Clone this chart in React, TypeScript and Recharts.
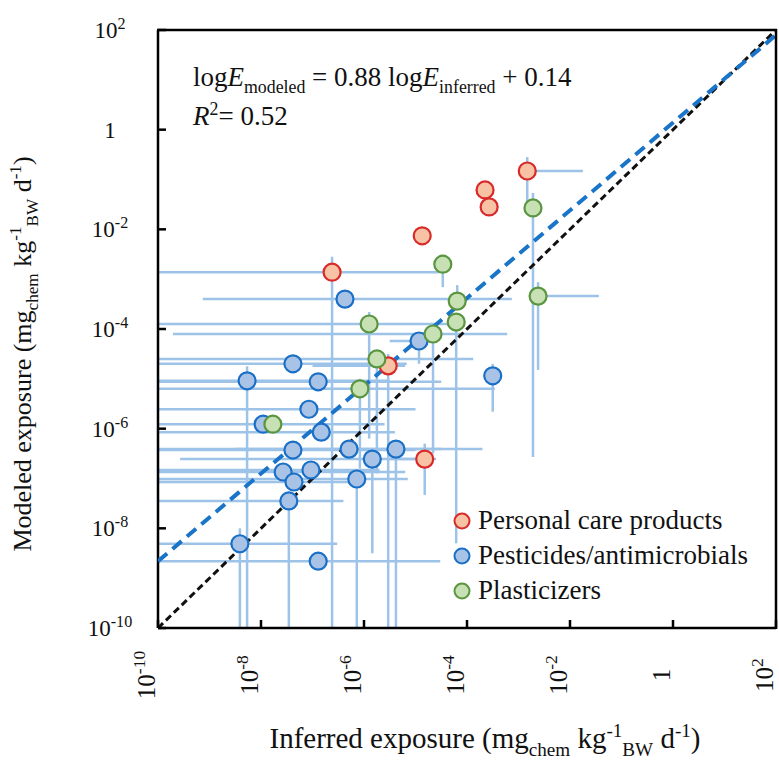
import React from 'react';
import { ScatterChart, Scatter, XAxis, YAxis, ErrorBar, Legend } from 'recharts';

const FONT = '"Liberation Serif", "DejaVu Serif", "Times New Roman", "Liberation Sans", sans-serif';

// Axis ticks (both axes, log scale)
const axisTicks = [1e-10, 1e-8, 1e-6, 1e-4, 1e-2, 1, 1e2];
const axisDomain = [1e-10, 1e2];

// Personal care products
const pcpX = [1.48e-3, 2.24e-4, 2.69e-4, 1.35e-5, 2.4e-7, 2.95e-6, 1.51e-5];
const pcpY = [1.48e-1, 6.17e-2, 2.82e-2, 7.41e-3, 1.38e-3, 1.82e-5, 2.45e-7];
const pcpXLow = [null, null, null, null, 1e-10, 1e-7, 3.16e-6];
const pcpXHigh = [1.78e-2, null, null, null, 2.82e-5, 6.31e-6, 2.51e-5];
const pcpYLow = [2.51e-2, null, null, null, 1e-10, 1e-10, 4.68e-8];
const pcpYHigh = [2.82e-1, null, null, null, 2.82e-3, 3.16e-5, 5.01e-7];

// Pesticides / antimicrobials
const pestX = [4.27e-7, 1.17e-5, 4.17e-8, 5.37e-9, 1.29e-7, 3.16e-4, 8.51e-8, 1.1e-8, 1.48e-7, 4.17e-8, 5.13e-7, 1.45e-6, 4.17e-6, 2.69e-8, 9.33e-8, 4.37e-8, 7.24e-7, 3.47e-8, 3.89e-9, 1.29e-7];
const pestY = [3.98e-4, 5.75e-5, 2.0e-5, 9.12e-6, 8.71e-6, 1.15e-5, 2.45e-6, 1.23e-6, 8.51e-7, 3.72e-7, 3.89e-7, 2.45e-7, 3.89e-7, 1.35e-7, 1.48e-7, 8.51e-8, 9.77e-8, 3.55e-8, 4.9e-9, 2.19e-9];
const pestXLow = [7.41e-10, 3.16e-6, 1e-10, 1e-10, 1e-10, null, 1e-10, 1e-10, 1e-10, 1e-10, 1e-10, 2.69e-10, 3.16e-9, 1e-10, 1e-10, 1e-10, 1e-10, 1e-10, 1e-10, 1e-10];
const pestXHigh = [7.41e-4, 2.0e-5, 6.76e-6, 3.16e-6, 3.16e-5, null, 1e-5, 2.51e-6, 3.98e-6, 1e-5, 2.0e-4, 1.26e-5, 3.16e-5, 6.31e-6, 2.0e-6, 1e-6, 7.08e-6, 3.98e-7, 3.02e-7, 3.02e-5];
const pestYLow = [null, 2.0e-5, null, 1e-10, null, 2.19e-6, null, null, null, null, null, 3.16e-9, 1e-10, null, null, null, 1e-10, 1e-10, 1e-10, null];
const pestYHigh = [null, null, null, 1.78e-5, null, 2.0e-5, null, null, null, null, null, null, null, null, null, null, null, null, 1e-8, null];

// Plasticizers
const plastX = [1.91e-3, 2.4e-3, 3.39e-5, 6.46e-5, 6.17e-5, 1.26e-6, 2.19e-5, 1.78e-6, 8.32e-7, 1.7e-8];
const plastY = [2.69e-2, 4.57e-4, 2.0e-3, 3.63e-4, 1.38e-4, 1.26e-4, 7.94e-5, 2.51e-5, 6.31e-6, 1.23e-6];
const plastXLow = [null, null, null, null, null, 1e-10, 1.95e-10, 1e-10, 1e-10, null];
const plastXHigh = [null, 3.63e-2, null, null, null, 7.24e-5, 6.03e-4, 1.32e-4, 3.47e-4, null];
const plastYLow = [2.69e-7, 1.51e-5, 6.92e-4, null, 5.01e-9, 6.31e-7, 3.16e-7, 1.26e-7, 1.58e-7, null];
const plastYHigh = [5.37e-2, 8.71e-4, null, 7.59e-4, null, 2.19e-4, null, 3.8e-5, 1e-5, null];

// Regression: log E_modeled = 0.88 log E_inferred + 0.14
const fitSlope = 0.88;
const fitIntercept = 0.14;

const seriesStyle: Record<string, { fill: string; stroke: string }> = {
  'Personal care products': { fill: '#f7c3a4', stroke: '#d92a2a' },
  'Pesticides/antimicrobials': { fill: '#a9c3e6', stroke: '#1a6fc6' },
  Plasticizers: { fill: '#c7e0b4', stroke: '#5a953f' },
};

const toPoints = (xs: number[], ys: number[]) => xs.map((x, i) => ({ x, y: ys[i] }));

const toErrRows = (
  xs: number[], ys: number[],
  xl: (number | null)[], xh: (number | null)[],
  yl: (number | null)[], yh: (number | null)[]
) =>
  xs.map((x, i) => {
    const y = ys[i];
    return {
      x,
      y,
      ex: [xl[i] == null ? 0 : x - (xl[i] as number), xh[i] == null ? 0 : (xh[i] as number) - x],
      ey: [yl[i] == null ? 0 : y - (yl[i] as number), yh[i] == null ? 0 : (yh[i] as number) - y],
    };
  });

const pcpData = toPoints(pcpX, pcpY);
const pestData = toPoints(pestX, pestY);
const plastData = toPoints(plastX, plastY);

const errData = [
  ...toErrRows(pcpX, pcpY, pcpXLow, pcpXHigh, pcpYLow, pcpYHigh),
  ...toErrRows(pestX, pestY, pestXLow, pestXHigh, pestYLow, pestYHigh),
  ...toErrRows(plastX, plastY, plastXLow, plastXHigh, plastYLow, plastYHigh),
];

const identityLine = axisDomain.map((v) => ({ x: v, y: v }));
const fitLine = axisDomain.map((v) => ({ x: v, y: Math.pow(10, fitSlope * Math.log10(v) + fitIntercept) }));

type Seg = { t: string; k?: 'sub' | 'sup'; i?: boolean };

const rich = (segs: Seg[], fs: number) => {
  let level = 0;
  return segs.map((s, idx) => {
    const target = s.k === 'sub' ? fs * 0.26 : s.k === 'sup' ? -fs * 0.38 : 0;
    const dy = target - level;
    level = target;
    return (
      <tspan key={idx} dy={dy} fontSize={s.k ? fs * 0.66 : fs} fontStyle={s.i ? 'italic' : undefined}>
        {s.t}
      </tspan>
    );
  });
};

const tickLabel = (v: number, fs: number) => {
  const e = Math.round(Math.log10(v));
  if (e === 0) return <tspan>1</tspan>;
  return (
    <>
      <tspan>10</tspan>
      <tspan dy={-fs * 0.4} fontSize={fs * 0.7}>{String(e)}</tspan>
    </>
  );
};

const Y_TICK_FS = 23;
const X_TICK_FS = 25;

const XTick = (props: any) => {
  const { x, y, payload } = props;
  return (
    <g>
      <line x1={x} y1={y} x2={x} y2={y - 8} stroke="#000" strokeWidth={2.5} />
      <text
        transform={`translate(${x - 8},${y + 47}) rotate(-90)`}
        textAnchor="middle"
        dy="0.2em"
        fontFamily={FONT}
        fontSize={X_TICK_FS}
        fill="#111"
      >
        {tickLabel(payload.value, X_TICK_FS)}
      </text>
    </g>
  );
};

const YTick = (props: any) => {
  const { x, y, payload } = props;
  return (
    <g>
      <line x1={x} y1={y} x2={x + 8} y2={y} stroke="#000" strokeWidth={2.5} />
      <text x={x - 48} y={y} textAnchor="middle" dy="0.35em" fontFamily={FONT} fontSize={Y_TICK_FS} fill="#111">
        {tickLabel(payload.value, Y_TICK_FS)}
      </text>
    </g>
  );
};

const makeDot = (name: string) => (p: any) => (
  <circle cx={p.cx} cy={p.cy} r={8.5} fill={seriesStyle[name].fill} stroke={seriesStyle[name].stroke} strokeWidth={2.2} />
);

const noShape = () => <g />;

const LegendContent = (props: any) => {
  const items = (props.payload || []).filter((p: any) => seriesStyle[p.value]);
  return (
    <div style={{ fontFamily: FONT, fontSize: 27, color: '#111' }}>
      {items.map((p: any) => (
        <div key={p.value} style={{ display: 'flex', alignItems: 'center', height: 35, whiteSpace: 'nowrap' }}>
          <svg width={20} height={20} style={{ marginRight: 6 }}>
            <circle cx={10} cy={10} r={7.5} fill={seriesStyle[p.value].fill} stroke={seriesStyle[p.value].stroke} strokeWidth={2} />
          </svg>
          <span>{p.value}</span>
        </div>
      ))}
    </div>
  );
};

const unitSegs: Seg[] = [
  { t: ' (mg' },
  { t: 'chem', k: 'sub' },
  { t: ' kg' },
  { t: '-1', k: 'sup' },
  { t: 'BW', k: 'sub' },
  { t: ' d' },
  { t: '-1', k: 'sup' },
  { t: ')' },
];

export default function App() {
  return (
    <div style={{ position: 'absolute', left: 0, top: 0, width: 779, height: 764, background: '#fff' }}>
      <ScatterChart width={779} height={764} margin={{ top: 30, right: 3, bottom: 0, left: 0 }}>
        <XAxis
          dataKey="x"
          type="number"
          scale="log"
          domain={axisDomain}
          ticks={axisTicks}
          interval={0}
          tickSize={0}
          tickMargin={0}
          tickLine={false}
          tick={<XTick />}
          axisLine={{ stroke: '#000', strokeWidth: 2.5 }}
          height={136}
          allowDataOverflow
        />
        <YAxis
          dataKey="y"
          type="number"
          scale="log"
          domain={axisDomain}
          ticks={axisTicks}
          interval={0}
          tickSize={0}
          tickMargin={0}
          tickLine={false}
          tick={<YTick />}
          axisLine={{ stroke: '#000', strokeWidth: 2.5 }}
          width={158}
          allowDataOverflow
        />
        <Scatter name="errors" data={errData} shape={noShape} legendType="none" isAnimationActive={false}>
          <ErrorBar dataKey="ex" direction="x" width={0} stroke="#9dc3e8" strokeWidth={2.5} isAnimationActive={false} />
          <ErrorBar dataKey="ey" direction="y" width={0} stroke="#9dc3e8" strokeWidth={2.5} isAnimationActive={false} />
        </Scatter>
        <Scatter
          name="1:1"
          data={identityLine}
          shape={noShape}
          line={{ stroke: '#111', strokeWidth: 3, strokeDasharray: '7 4' }}
          legendType="none"
          isAnimationActive={false}
        />
        <Scatter
          name="fit"
          data={fitLine}
          shape={noShape}
          line={{ stroke: '#1a74c8', strokeWidth: 4, strokeDasharray: '12 7' }}
          legendType="none"
          isAnimationActive={false}
        />
        <Scatter
          name="Personal care products"
          data={pcpData}
          fill={seriesStyle['Personal care products'].fill}
          shape={makeDot('Personal care products')}
          isAnimationActive={false}
        />
        <Scatter
          name="Pesticides/antimicrobials"
          data={pestData}
          fill={seriesStyle['Pesticides/antimicrobials'].fill}
          shape={makeDot('Pesticides/antimicrobials')}
          isAnimationActive={false}
        />
        <Scatter
          name="Plasticizers"
          data={plastData}
          fill={seriesStyle['Plasticizers'].fill}
          shape={makeDot('Plasticizers')}
          isAnimationActive={false}
        />
        <Legend
          layout="horizontal"
          verticalAlign="middle"
          align="center"
          content={<LegendContent />}
          wrapperStyle={{ position: 'absolute', left: 452, top: 503, width: 325 }}
        />
      </ScatterChart>
      <svg
        width={779}
        height={764}
        style={{ position: 'absolute', left: 0, top: 0, pointerEvents: 'none' }}
        fontFamily={FONT}
        fill="#111"
      >
        {/* top and right frame */}
        <line x1={157} y1={30} x2={777} y2={30} stroke="#000" strokeWidth={2.5} />
        <line x1={776} y1={29} x2={776} y2={629} stroke="#000" strokeWidth={2.5} />
        <text x={193} y={86} fontSize={27}>
          {rich(
            [
              { t: 'log' },
              { t: 'E', i: true },
              { t: 'modeled', k: 'sub' },
              { t: ' = 0.88 log' },
              { t: 'E', i: true },
              { t: 'inferred', k: 'sub' },
              { t: ' + 0.14' },
            ],
            27
          )}
        </text>
        <text x={193} y={125} fontSize={27}>
          {rich([{ t: 'R', i: true }, { t: '2', k: 'sup' }, { t: '= 0.52' }], 27)}
        </text>
        <text transform="translate(31,354) rotate(-90)" textAnchor="middle" dy="0.35em" fontSize={26}>
          {rich([{ t: 'Modeled exposure' }, ...unitSegs], 26)}
        </text>
        <text x={485} y={748} textAnchor="middle" fontSize={29}>
          {rich([{ t: 'Inferred exposure' }, ...unitSegs], 29)}
        </text>
      </svg>
    </div>
  );
}
